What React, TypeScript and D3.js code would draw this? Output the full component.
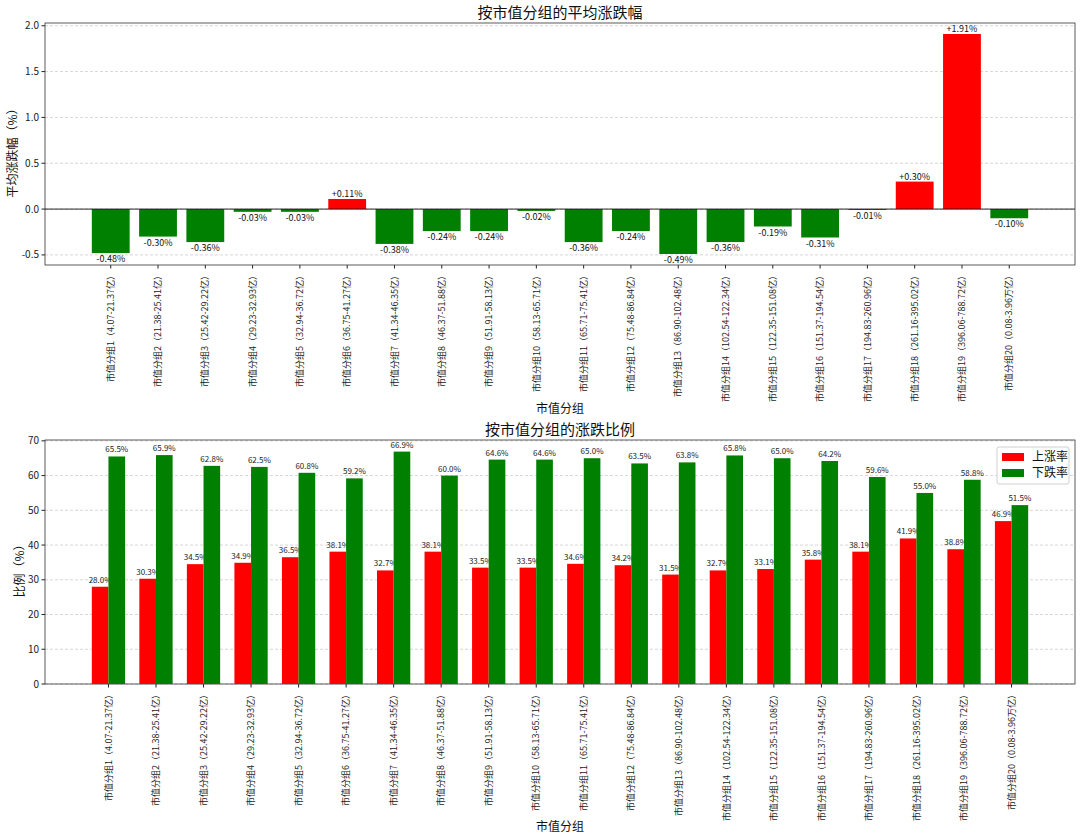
import React, { useEffect, useRef } from "react";
import * as d3 from "d3";

// market-cap groups and their ranges
const groupNames = d3.range(1, 21).map((i) => `市值分组${i}`);
const groupRanges = [
  "4.07-21.37亿", "21.38-25.41亿", "25.42-29.22亿", "29.23-32.93亿", "32.94-36.72亿",
  "36.75-41.27亿", "41.34-46.35亿", "46.37-51.88亿", "51.91-58.13亿", "58.13-65.71亿",
  "65.71-75.41亿", "75.48-86.84亿", "86.90-102.48亿", "102.54-122.34亿", "122.35-151.08亿",
  "151.37-194.54亿", "194.83-260.96亿", "261.16-395.02亿", "396.06-788.72亿", "0.08-3.96万亿",
];

// average change (%)
const avgChange = [
  -0.48, -0.30, -0.36, -0.03, -0.03, 0.11, -0.38, -0.24, -0.24, -0.02,
  -0.36, -0.24, -0.49, -0.36, -0.19, -0.31, -0.01, 0.30, 1.91, -0.10,
];

// up / down ratios (%)
const upRatio = [
  28.0, 30.3, 34.5, 34.9, 36.5, 38.1, 32.7, 38.1, 33.5, 33.5,
  34.6, 34.2, 31.5, 32.7, 33.1, 35.8, 38.1, 41.9, 38.8, 46.9,
];
const downRatio = [
  65.5, 65.9, 62.8, 62.5, 60.8, 59.2, 66.9, 60.0, 64.6, 64.6,
  65.0, 63.5, 63.8, 65.8, 65.0, 64.2, 59.6, 55.0, 58.8, 51.5,
];

const topTicks = [-0.5, 0.0, 0.5, 1.0, 1.5, 2.0];
const bottomTicks = [0, 10, 20, 30, 40, 50, 60, 70];

const FONT = "'Noto Sans CJK SC', 'Noto Sans', sans-serif";
const RED = "#ff0000";
const GREEN = "#008000";

const labels = groupNames.map((g, i) => `${g}（${groupRanges[i]}）`);

const App: React.FC = () => {
  const svgRef = useRef<SVGSVGElement>(null);

  useEffect(() => {
    const svg = d3.select(svgRef.current);
    svg.selectAll("*").remove();
    const n = labels.length;
    const idx = d3.range(n);

    // draws frame, grid, y ticks, rotated x labels, titles
    const drawAxes = (
      g: d3.Selection<SVGGElement, unknown, null, undefined>,
      x: d3.ScaleLinear<number, number>,
      y: d3.ScaleLinear<number, number>,
      yTicks: number[],
      fmt: (v: number) => string,
      title: string,
      yLabel: string,
      yLabelX: number
    ) => {
      const [left, right] = x.range();
      const [bottom, top] = y.range();

      // grid
      g.append("g")
        .selectAll("line")
        .data(yTicks)
        .join("line")
        .attr("x1", left)
        .attr("x2", right)
        .attr("y1", (d) => y(d))
        .attr("y2", (d) => y(d))
        .attr("stroke", "#b8b8b8")
        .attr("stroke-width", 0.8)
        .attr("stroke-dasharray", "3,2")
        .attr("opacity", 0.7);

      // y ticks
      const yt = g.append("g");
      yt.selectAll("line")
        .data(yTicks)
        .join("line")
        .attr("x1", left - 3.5)
        .attr("x2", left)
        .attr("y1", (d) => y(d))
        .attr("y2", (d) => y(d))
        .attr("stroke", "#222");
      yt.selectAll("text")
        .data(yTicks)
        .join("text")
        .attr("x", left - 6)
        .attr("y", (d) => y(d))
        .attr("dy", "0.35em")
        .attr("text-anchor", "end")
        .attr("font-size", 10)
        .attr("font-family", FONT)
        .attr("fill", "#222")
        .text(fmt);

      // x ticks and labels
      const xt = g.append("g");
      xt.selectAll("line")
        .data(idx)
        .join("line")
        .attr("x1", (d) => x(d))
        .attr("x2", (d) => x(d))
        .attr("y1", bottom)
        .attr("y2", bottom + 3.5)
        .attr("stroke", "#222");
      xt.selectAll("text")
        .data(idx)
        .join("text")
        .attr("transform", (d) => `translate(${x(d)},${bottom + 6}) rotate(-90)`)
        .attr("dy", "0.35em")
        .attr("text-anchor", "end")
        .attr("font-size", 9)
        .attr("font-family", FONT)
        .attr("fill", "#222")
        .text((d) => labels[d]);

      // frame
      g.append("rect")
        .attr("x", left)
        .attr("y", top)
        .attr("width", right - left)
        .attr("height", bottom - top)
        .attr("fill", "none")
        .attr("stroke", "#333")
        .attr("stroke-width", 0.8);

      g.append("text")
        .attr("x", (left + right) / 2)
        .attr("y", top - 5)
        .attr("text-anchor", "middle")
        .attr("font-size", 15)
        .attr("font-family", FONT)
        .attr("fill", "#111")
        .text(title);

      g.append("text")
        .attr("transform", `translate(${yLabelX},${(top + bottom) / 2 + 6}) rotate(-90)`)
        .attr("text-anchor", "middle")
        .attr("dy", "0.35em")
        .attr("font-size", 12)
        .attr("font-family", FONT)
        .attr("fill", "#111")
        .text(yLabel);
    };

    // ---- top chart: average change ----
    const g1 = svg.append("g");
    const pad1 = 0.05 * (n - 1 + 0.8);
    const x1 = d3.scaleLinear().domain([-0.4 - pad1, n - 1 + 0.4 + pad1]).range([45, 1075]);
    const lo = d3.min(avgChange)!;
    const hi = d3.max(avgChange)!;
    const m1 = 0.05 * (hi - lo);
    const y1 = d3.scaleLinear().domain([lo - m1, hi + m1]).range([265, 23]);

    drawAxes(g1, x1, y1, topTicks, (v) => v.toFixed(1), "按市值分组的平均涨跌幅", "平均涨跌幅（%）", 13);

    const bw1 = x1(0.8) - x1(0);
    g1.append("g")
      .selectAll("rect")
      .data(avgChange)
      .join("rect")
      .attr("x", (_, i) => x1(i) - bw1 / 2)
      .attr("y", (d) => y1(Math.max(0, d)))
      .attr("width", bw1)
      .attr("height", (d) => Math.abs(y1(d) - y1(0)))
      .attr("fill", (d) => (d >= 0 ? RED : GREEN));

    g1.append("line")
      .attr("x1", 45)
      .attr("x2", 1075)
      .attr("y1", y1(0))
      .attr("y2", y1(0))
      .attr("stroke", "#111")
      .attr("stroke-width", 0.9);

    g1.append("g")
      .selectAll("text")
      .data(avgChange)
      .join("text")
      .attr("x", (_, i) => x1(i))
      .attr("y", (d) => (d >= 0 ? y1(d) - 2 : y1(d) + 9))
      .attr("text-anchor", "middle")
      .attr("font-size", 9)
      .attr("font-family", FONT)
      .attr("fill", "#111")
      .text((d) => `${d >= 0 ? "+" : "-"}${Math.abs(d).toFixed(2)}%`);

    svg.append("text")
      .attr("x", 560)
      .attr("y", 413)
      .attr("text-anchor", "middle")
      .attr("font-size", 12)
      .attr("font-family", FONT)
      .attr("fill", "#111")
      .text("市值分组");

    // ---- bottom chart: up / down ratios ----
    const g2 = svg.append("g");
    const bw = 0.35;
    const pad2 = 0.05 * (n - 1 + 2 * bw);
    const x2 = d3.scaleLinear().domain([-bw - pad2, n - 1 + bw + pad2]).range([45, 1075]);
    const y2 = d3.scaleLinear().domain([0, d3.max(downRatio)! * 1.05]).range([684, 440]);

    drawAxes(g2, x2, y2, bottomTicks, (v) => String(v), "按市值分组的涨跌比例", "比例（%）", 20);

    const bw2 = x2(bw) - x2(0);
    const series = [
      { name: "上涨率", values: upRatio, color: RED, offset: -bw / 2 },
      { name: "下跌率", values: downRatio, color: GREEN, offset: bw / 2 },
    ];
    series.forEach((s) => {
      const sg = g2.append("g");
      sg.selectAll("rect")
        .data(s.values)
        .join("rect")
        .attr("x", (_, i) => x2(i + s.offset) - bw2 / 2)
        .attr("y", (d) => y2(d))
        .attr("width", bw2)
        .attr("height", (d) => y2(0) - y2(d))
        .attr("fill", s.color);
      sg.selectAll("text")
        .data(s.values)
        .join("text")
        .attr("x", (_, i) => x2(i + s.offset))
        .attr("y", (d) => y2(d) - 4)
        .attr("text-anchor", "middle")
        .attr("font-size", 8)
        .attr("font-family", FONT)
        .attr("fill", "#222")
        .text((d) => `${d.toFixed(1)}%`);
    });

    // legend
    const lg = g2.append("g").attr("transform", "translate(997,447)");
    lg.append("rect")
      .attr("width", 72)
      .attr("height", 37)
      .attr("rx", 2)
      .attr("fill", "#fff")
      .attr("fill-opacity", 0.8)
      .attr("stroke", "#d0d0d0");
    series.forEach((s, i) => {
      lg.append("rect")
        .attr("x", 5)
        .attr("y", 6 + i * 16)
        .attr("width", 22)
        .attr("height", 8)
        .attr("fill", s.color);
      lg.append("text")
        .attr("x", 35)
        .attr("y", 10 + i * 16)
        .attr("dy", "0.35em")
        .attr("font-size", 12)
        .attr("font-family", FONT)
        .attr("fill", "#111")
        .text(s.name);
    });

    svg.append("text")
      .attr("x", 560)
      .attr("y", 831)
      .attr("text-anchor", "middle")
      .attr("font-size", 12)
      .attr("font-family", FONT)
      .attr("fill", "#111")
      .text("市值分组");

    return () => {
      svg.selectAll("*").remove();
    };
  }, []);

  return (
    <svg
      ref={svgRef}
      width={1080}
      height={839}
      style={{ position: "absolute", left: 0, top: 0, background: "#fff" }}
    />
  );
};

export default App;
